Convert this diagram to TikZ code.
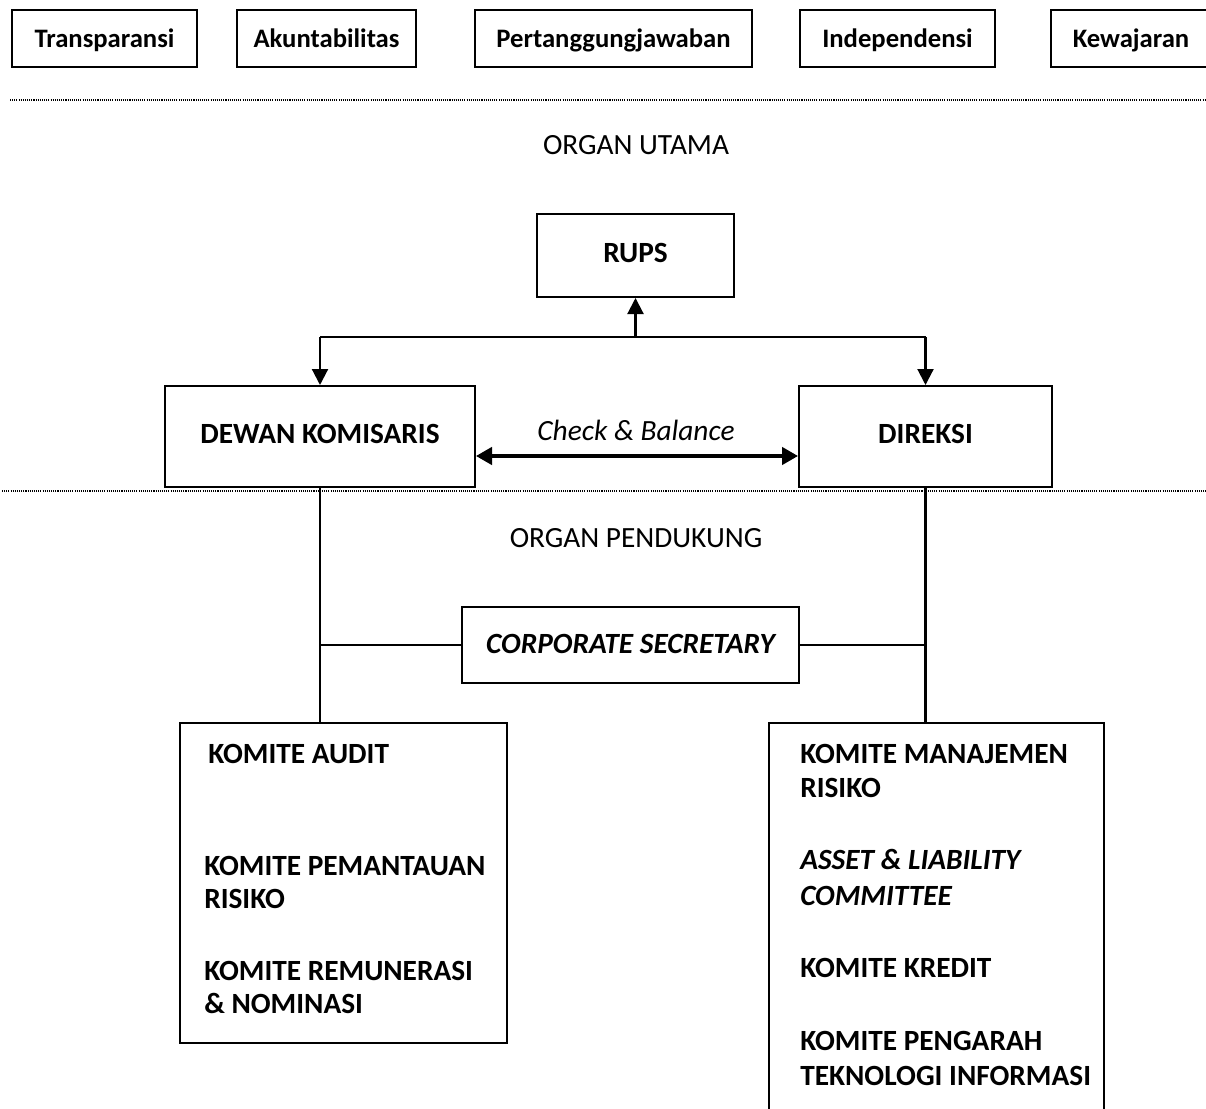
\documentclass[tikz,border=0pt]{standalone}
\usepackage{fontspec}
\setmainfont{Carlito}
\usetikzlibrary{arrows.meta}

\begin{document}
\begin{tikzpicture}[x=0.75pt,y=0.75pt,yscale=-1,xscale=1,
  prinsip/.style={draw,line width=1.5pt,inner sep=0pt,minimum height=42.75pt,text height=16pt,text depth=2pt,font=\fontsize{20}{24}\selectfont\bfseries},
  organ/.style={draw,line width=1.5pt,inner sep=0pt,text height=14pt,text depth=4pt,font=\fontsize{22}{26}\selectfont\bfseries},
  komite/.style={anchor=base west,inner sep=0pt,font=\fontsize{22}{26}\selectfont\bfseries},
  judul/.style={inner sep=0pt,font=\fontsize{22}{26}\selectfont},
  garis/.style={line width=1.6pt},
  panah/.style={line width=1.6pt,-{Triangle[length=12pt,width=12pt]}},
  batas/.style={line width=0.8pt,dash pattern=on 0.8pt off 0.8pt}]
\useasboundingbox (0,0) rectangle (1206,1109);
\clip (0,0) rectangle (1206,1109);
% prinsip GCG
\node [prinsip,minimum width=138.75pt] (trans) at (104.5,38.5) {Transparansi};
\node [prinsip,minimum width=134.25pt] (akun) at (326.5,38.5) {Akuntabilitas};
\node [prinsip,minimum width=207.75pt] (tanggung) at (613.5,38.5) {Pertanggungjawaban};
\node [prinsip,minimum width=146.25pt] (indep) at (897.5,38.5) {Independensi};
\node [prinsip,minimum width=120pt] (wajar) at (1131,38.5) {Kewajaran};
\draw [batas] (10,100) -- (1206,100);
% organ utama
\node [judul] (utama) at (636,145) {ORGAN UTAMA};
\node [organ,minimum width=147.75pt,minimum height=62.25pt] (rups) at (635.5,255.5) {RUPS};
\node [organ,minimum width=232.5pt,minimum height=75.75pt] (dewan) at (320,436.5) {DEWAN KOMISARIS};
\node [organ,minimum width=189.75pt,minimum height=75.75pt] (direksi) at (925.5,436.5) {DIREKSI};
\coordinate (bus) at (636,337);
\draw [garis] (dewan.north |- bus) -- (direksi.north |- bus);
\draw [panah] (rups.south |- bus) -- (rups.south);
\draw [panah] (dewan.north |- bus) -- (dewan.north);
\draw [panah] (direksi.north |- bus) -- (direksi.north);
\coordinate (cb) at (636,456);
\draw [line width=2.6pt,{Triangle[length=12pt,width=13pt]}-{Triangle[length=12pt,width=13pt]}] (dewan.east |- cb) -- (direksi.west |- cb);
\node [judul,font=\fontsize{22}{26}\selectfont\itshape] (check) at (636,430) {Check \& Balance};
\draw [batas] (2,491) -- (1206,491);
% organ pendukung
\node [judul] (pendukung) at (636,538) {ORGAN PENDUKUNG};
\node [organ,font=\fontsize{22}{26}\selectfont\bfseries\itshape,text height=16pt,text depth=3pt,minimum width=252.75pt,minimum height=57pt] (corsec) at (630.5,645) {CORPORATE SECRETARY};
\node [draw,line width=1.5pt,minimum width=245.25pt,minimum height=240pt] (kiri) at (343.75,883) {};
\node [draw,line width=1.5pt,minimum width=251.25pt,minimum height=312.75pt] (kanan) at (936.5,931.5) {};
\draw [garis] (dewan.south) -- (dewan.south |- kiri.north);
\draw [garis] (direksi.south) -- (direksi.south |- kanan.north);
\draw [garis] (corsec.west) -- (corsec.west -| dewan.south);
\draw [garis] (corsec.east) -- (corsec.east -| direksi.south);
% komite dewan komisaris
\node [komite] (audit) at (208,763) {KOMITE AUDIT};
\node [komite] (pantau) at (204,875) {KOMITE PEMANTAUAN};
\node [komite] (pantaub) at (204,908) {RISIKO};
\node [komite] (remun) at (204,980) {KOMITE REMUNERASI};
\node [komite] (remunb) at (204,1013) {\& NOMINASI};
% komite direksi
\node [komite] (risiko) at (800,763) {KOMITE MANAJEMEN};
\node [komite] (risikob) at (800,797) {RISIKO};
\node [komite,font=\fontsize{22}{26}\selectfont\bfseries\itshape] (alco) at (800,869) {ASSET \& LIABILITY};
\node [komite,font=\fontsize{22}{26}\selectfont\bfseries\itshape] (alcob) at (800,905) {COMMITTEE};
\node [komite] (kredit) at (800,977) {KOMITE KREDIT};
\node [komite] (tsi) at (800,1050) {KOMITE PENGARAH};
\node [komite] (tsib) at (800,1085) {TEKNOLOGI INFORMASI};
\end{tikzpicture}
\end{document}
